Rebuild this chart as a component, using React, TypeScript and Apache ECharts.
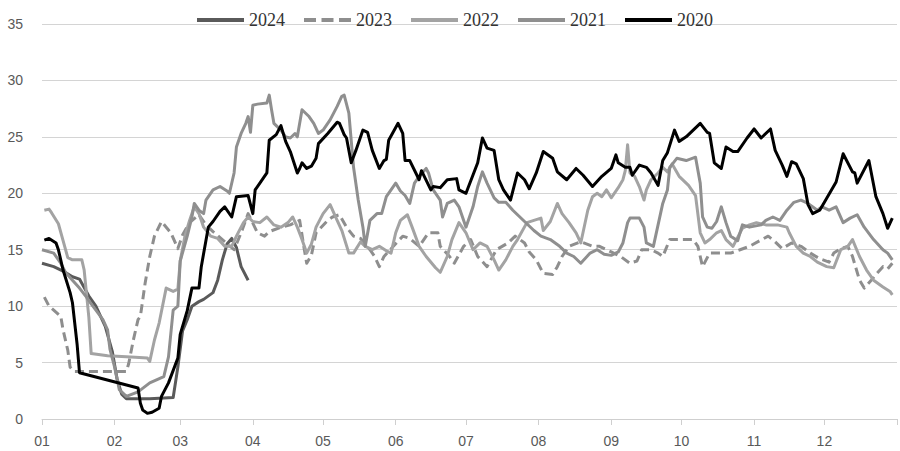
import React, { useEffect, useRef } from "react";
import * as echarts from "echarts";

// Calendar of the x axis (non-leap year, plus the closing tick of Jan 1 next year)
const monthDays = [31, 28, 31, 30, 31, 30, 31, 31, 30, 31, 30, 31];
const monthLabels = ["01", "02", "03", "04", "05", "06", "07", "08", "09", "10", "11", "12"];
const yTicks = { min: 0, max: 35, interval: 5 };

// [day of year (0 = Jan 1), value]
const s2024: [number, number][] = [
  [0, 13.8], [5, 13.5], [9, 13.1], [13, 12.6], [16, 12.4], [20, 10.9], [23, 10.0], [27, 8.2],
  [30, 6.0], [32, 3.6], [34, 2.2], [36, 1.8], [46, 1.8], [56, 1.9], [58, 4.6], [60, 7.8],
  [62, 8.8], [64, 10.0], [67, 10.4], [69, 10.6], [73, 11.2], [75, 12.3], [77, 14.1], [79, 15.5],
  [81, 16.0], [83, 15.2], [85, 13.5], [88, 12.3],
];

const s2023: [number, number][] = [
  [1, 10.8], [3, 10.0], [5, 9.65], [8, 9.1], [9, 7.9], [11, 6.1], [12, 4.6], [14, 4.2],
  [30, 4.2], [36, 4.2], [37, 4.9], [39, 7.0], [41, 8.8], [42, 9.1], [44, 12.0], [46, 14.4],
  [48, 16.2], [51, 17.5], [55, 16.5], [58, 15.1], [60, 16.3], [63, 17.4], [67, 18.1], [70, 17.2],
  [73, 16.6], [77, 15.9], [82, 15.0], [85, 16.5], [88, 18.2], [92, 16.5], [95, 16.2], [97, 16.6],
  [102, 17.0], [106, 17.2], [110, 17.6], [112, 15.0], [113, 13.8], [115, 14.5], [117, 16.5],
  [122, 17.6], [124, 17.9], [127, 18.1], [130, 17.0], [133, 16.2], [136, 16.0], [140, 15.0],
  [142, 14.4], [144, 13.5], [146, 14.4], [150, 15.3], [154, 16.2], [157, 16.0], [161, 15.3],
  [165, 16.5], [169, 16.5], [170, 15.3], [174, 14.4], [176, 13.8], [180, 15.3], [183, 15.9],
  [186, 14.4], [190, 13.5], [194, 15.0], [199, 15.6], [202, 16.2], [204, 15.9], [206, 15.6],
  [208, 14.8], [211, 14.1], [214, 12.9], [218, 12.8], [220, 13.5], [222, 14.4], [225, 15.3],
  [230, 15.7], [235, 15.3], [238, 15.3], [243, 14.8], [247, 14.4], [251, 13.8], [254, 14.0],
  [256, 15.0], [260, 15.0], [263, 14.7], [265, 14.4], [268, 15.9], [272, 15.9], [278, 15.9],
  [280, 15.3], [282, 13.5], [285, 14.7], [294, 14.7], [298, 15.0], [302, 15.3], [310, 16.2],
  [313, 15.7], [316, 15.1], [320, 15.6], [324, 15.3], [328, 14.7], [332, 14.2], [336, 13.9],
  [338, 14.7], [341, 15.1], [344, 15.3], [346, 14.4], [349, 12.3], [351, 11.6], [354, 12.3],
  [356, 12.8], [359, 13.5], [361, 13.3], [363, 13.8],
];

const s2022: [number, number][] = [
  [1, 18.5], [3, 18.6], [4, 18.3], [7, 17.3], [9, 15.8], [11, 14.3], [13, 14.1], [17, 14.1],
  [18, 13.2], [20, 9.0], [21, 5.8], [28, 5.6], [38, 5.5], [45, 5.4], [46, 5.1], [48, 7.0],
  [50, 8.5], [53, 11.6], [56, 11.3], [58, 11.5], [59, 14.0], [61, 16.2], [63, 17.6], [65, 18.8],
  [67, 18.2], [69, 17.0], [72, 16.2], [75, 16.0], [78, 15.3], [81, 15.3], [83, 16.2], [86, 17.4],
  [88, 17.9], [90, 17.5], [93, 17.4], [96, 17.9], [99, 17.2], [102, 17.0], [105, 17.4],
  [107, 17.9], [109, 17.0], [111, 15.9], [113, 14.7], [115, 15.5], [117, 17.0], [120, 18.2],
  [123, 19.0], [126, 17.6], [128, 16.7], [131, 14.7], [133, 14.7], [136, 15.7], [138, 15.3],
  [141, 15.0], [144, 15.3], [147, 14.9], [149, 14.7], [151, 16.5], [153, 17.6], [156, 18.1],
  [158, 17.0], [161, 15.3], [164, 14.4], [168, 13.4], [170, 13.0], [173, 14.4], [175, 15.9],
  [178, 17.4], [181, 16.5], [184, 15.0], [187, 15.6], [190, 15.3], [193, 14.1], [195, 13.2],
  [198, 14.1], [201, 15.3], [203, 15.9], [207, 17.4], [210, 17.6], [213, 17.8], [214, 16.7],
  [217, 17.5], [220, 19.1], [222, 18.2], [225, 17.4], [228, 16.5], [230, 15.6], [233, 18.5],
  [235, 19.7], [237, 20.0], [239, 19.7], [241, 20.3], [243, 19.6], [246, 20.5], [248, 21.2],
  [249, 22.0], [250, 24.3], [251, 21.8], [253, 21.5], [255, 20.6], [257, 19.4], [258, 20.3],
  [260, 21.2], [263, 21.8], [265, 22.3], [267, 21.9], [269, 22.6], [272, 21.5], [276, 20.7],
  [279, 19.8], [281, 16.5], [283, 15.6], [285, 15.9], [288, 16.5], [290, 16.7], [292, 15.9],
  [295, 15.3], [299, 16.9], [302, 17.2], [305, 17.4], [309, 17.2], [314, 17.2], [318, 17.0],
  [319, 16.5], [322, 15.3], [325, 14.7], [328, 14.4], [331, 13.9], [335, 13.5], [338, 13.4],
  [341, 15.0], [344, 15.3], [346, 15.9], [349, 14.4], [352, 13.2], [355, 12.3], [359, 11.7],
  [362, 11.3], [363, 11.0],
];

const s2021: [number, number][] = [
  [0, 15.0], [5, 14.7], [8, 13.8], [10, 13.0], [13, 12.3], [16, 11.6], [19, 10.8], [21, 10.2],
  [23, 9.65], [26, 8.8], [28, 7.9], [29, 6.2], [31, 4.6], [33, 2.6], [36, 2.0], [41, 2.4],
  [46, 3.2], [52, 3.75], [54, 5.5], [56, 9.65], [58, 10.0], [59, 14.0], [62, 16.2], [64, 17.9],
  [65, 19.1], [67, 18.5], [69, 18.2], [70, 19.4], [73, 20.3], [76, 20.6], [79, 20.2], [80, 20.0],
  [82, 21.8], [83, 24.1], [85, 25.3], [87, 26.2], [88, 26.8], [89, 25.4], [90, 27.8], [92, 27.9],
  [96, 28.0], [97, 28.7], [98, 27.4], [99, 26.2], [102, 25.6], [104, 25.0], [106, 24.9],
  [108, 25.3], [109, 25.0], [111, 27.4], [114, 26.8], [116, 26.2], [118, 25.3], [120, 25.6],
  [123, 26.5], [126, 27.7], [128, 28.6], [129, 28.7], [131, 27.1], [133, 22.3], [135, 19.4],
  [137, 17.0], [138, 15.3], [140, 17.6], [143, 18.2], [145, 18.2], [147, 19.7], [151, 20.9],
  [153, 20.2], [155, 19.8], [157, 19.1], [159, 20.9], [161, 21.5], [164, 22.2], [165, 21.8],
  [167, 20.3], [170, 19.4], [171, 17.9], [173, 19.1], [176, 19.4], [178, 18.8], [181, 17.0],
  [184, 18.8], [186, 20.6], [188, 21.9], [190, 20.9], [193, 19.6], [195, 19.2], [198, 19.2],
  [201, 18.5], [203, 18.1], [206, 17.5], [210, 16.7], [213, 16.2], [217, 15.9], [221, 15.3],
  [224, 14.7], [227, 14.4], [230, 13.8], [234, 14.7], [237, 15.0], [240, 14.6], [243, 14.5],
  [246, 14.8], [248, 15.6], [250, 17.4], [251, 17.8], [255, 17.8], [257, 17.0], [258, 15.6],
  [261, 15.3], [265, 19.1], [267, 20.3], [268, 22.3], [271, 23.1], [275, 22.9], [279, 23.2],
  [281, 20.9], [282, 17.9], [284, 17.0], [286, 16.9], [288, 17.5], [290, 18.8], [292, 17.4],
  [294, 16.2], [297, 15.8], [299, 17.2], [302, 17.0], [307, 17.2], [309, 17.6], [312, 17.9],
  [315, 17.6], [318, 18.5], [321, 19.2], [324, 19.4], [327, 19.1], [331, 18.5], [333, 18.8],
  [336, 18.5], [339, 18.8], [342, 17.4], [345, 17.8], [348, 18.1], [351, 17.0], [355, 15.9],
  [359, 15.0], [361, 14.7], [363, 14.1],
];

const s2020: [number, number][] = [
  [1, 15.85], [3, 16.0], [6, 15.6], [7, 15.0], [9, 13.2], [12, 11.2], [13, 10.3], [15, 6.6],
  [16, 4.1], [41, 2.75], [42, 1.4], [43, 0.8], [45, 0.5], [47, 0.6], [50, 0.95], [51, 2.0],
  [54, 3.2], [58, 5.4], [59, 7.5], [62, 9.6], [64, 11.6], [67, 11.6], [68, 13.5], [71, 17.0],
  [73, 17.5], [76, 18.4], [78, 18.8], [81, 17.9], [83, 19.7], [88, 19.8], [90, 18.2], [91, 20.3],
  [93, 20.9], [96, 21.8], [97, 24.7], [100, 25.2], [102, 26.0], [104, 24.6], [106, 23.7],
  [109, 21.8], [110, 22.2], [111, 22.7], [113, 22.2], [115, 22.4], [117, 23.1], [118, 24.4],
  [122, 25.3], [126, 26.3], [127, 26.2], [129, 25.2], [130, 24.9], [132, 22.7], [134, 23.8],
  [137, 25.6], [139, 25.4], [141, 23.8], [144, 22.2], [146, 22.9], [147, 23.0], [148, 24.7],
  [152, 26.2], [154, 25.3], [155, 22.9], [157, 22.9], [161, 21.2], [162, 22.0], [166, 20.3],
  [167, 20.6], [170, 20.5], [173, 21.2], [177, 21.3], [178, 20.3], [181, 20.0], [186, 22.7],
  [187, 23.8], [188, 24.9], [190, 24.0], [193, 23.8], [195, 21.2], [197, 20.3], [200, 19.4],
  [203, 21.8], [206, 21.2], [208, 20.4], [211, 21.8], [214, 23.7], [218, 23.1], [220, 21.9],
  [224, 21.2], [228, 22.2], [231, 21.6], [235, 20.6], [239, 21.5], [243, 22.2], [245, 23.4],
  [246, 22.7], [249, 22.3], [251, 22.3], [252, 21.6], [255, 22.5], [258, 22.3], [260, 21.8],
  [263, 20.7], [265, 22.9], [267, 23.6], [270, 25.6], [272, 24.6], [275, 25.0], [281, 26.2],
  [284, 25.4], [285, 25.3], [287, 22.7], [290, 22.2], [292, 24.1], [295, 23.7], [297, 23.7],
  [301, 24.9], [304, 25.7], [307, 24.9], [311, 25.7], [313, 23.8], [316, 22.5], [318, 21.5],
  [320, 22.8], [322, 22.6], [325, 21.3], [327, 19.0], [329, 18.2], [332, 18.5], [334, 19.2],
  [339, 21.0], [342, 23.5], [346, 21.9], [347, 21.8], [348, 20.9], [353, 22.9], [356, 19.7],
  [359, 18.2], [361, 16.9], [363, 17.8],
];

const seriesDefs = [
  { name: "2024", data: s2024, color: "#5a5a5a", dashed: false },
  { name: "2023", data: s2023, color: "#8e8e8e", dashed: true },
  { name: "2022", data: s2022, color: "#a3a3a3", dashed: false },
  { name: "2021", data: s2021, color: "#8f8f8f", dashed: false },
  { name: "2020", data: s2020, color: "#000000", dashed: false },
];

const SOLID_ICON = "path://M0,0h47v4h-47z";
const DASH_ICON = "path://M0,0h12v4h-12zM17.5,0h12v4h-12zM35,0h12v4h-12z";

export default function App() {
  const ref = useRef<HTMLDivElement>(null);

  useEffect(() => {
    if (!ref.current) return;
    const chart = echarts.init(ref.current, undefined, { renderer: "svg" });

    const cats: string[] = [];
    const monthStart = new Set<number>();
    let idx = 0;
    monthDays.forEach((n, m) => {
      for (let d = 1; d <= n; d++) {
        if (d === 1) monthStart.add(idx);
        cats.push(monthLabels[m] + "-" + String(d).padStart(2, "0"));
        idx++;
      }
    });
    monthStart.add(idx);
    cats.push("end");
    const lastIdx = idx;

    const axisFont = "'Liberation Sans Narrow', 'Liberation Sans', sans-serif";

    chart.setOption({
      animation: false,
      backgroundColor: "#ffffff",
      grid: { left: 42, right: 3, top: 24, bottom: 32 },
      legend: {
        top: 6,
        left: 192,
        itemWidth: 47,
        itemHeight: 4,
        itemGap: 19,
        textStyle: {
          fontFamily: "'Liberation Serif', 'DejaVu Serif', serif",
          fontSize: 18,
          color: "#333333",
        },
        data: seriesDefs.map((s) => ({
          name: s.name,
          icon: s.dashed ? DASH_ICON : SOLID_ICON,
          itemStyle: { color: s.color, borderWidth: 0 },
        })),
      },
      xAxis: {
        type: "category",
        boundaryGap: false,
        data: cats,
        axisLine: { lineStyle: { color: "#cfcfcf", width: 1 } },
        axisTick: {
          show: true,
          interval: (i: number) => monthStart.has(i),
          length: 6,
          lineStyle: { color: "#cfcfcf" },
        },
        axisLabel: {
          interval: (i: number) => monthStart.has(i) && i < lastIdx,
          formatter: (v: string) => v.slice(0, 2),
          color: "#595959",
          fontSize: 14,
          fontFamily: axisFont,
          margin: 15,
        },
        splitLine: { show: false },
      },
      yAxis: {
        type: "value",
        min: yTicks.min,
        max: yTicks.max,
        interval: yTicks.interval,
        axisLine: { show: false },
        axisTick: { show: false },
        axisLabel: {
          color: "#595959",
          fontSize: 14,
          fontFamily: axisFont,
          margin: 19,
        },
        splitLine: { lineStyle: { color: "#d4d4d4", width: 1 } },
      },
      series: seriesDefs.map((s) => ({
        name: s.name,
        type: "line",
        data: s.data,
        showSymbol: false,
        symbol: "none",
        smooth: false,
        color: s.color,
        itemStyle: { color: s.color },
        lineStyle: {
          color: s.color,
          width: 3,
          type: s.dashed ? [9, 5] : "solid",
          cap: "butt",
          join: "round",
        },
        emphasis: { disabled: true },
      })),
    });

    return () => chart.dispose();
  }, []);

  return (
    <div
      ref={ref}
      style={{ position: "absolute", left: 0, top: 0, width: 900, height: 451 }}
    />
  );
}
